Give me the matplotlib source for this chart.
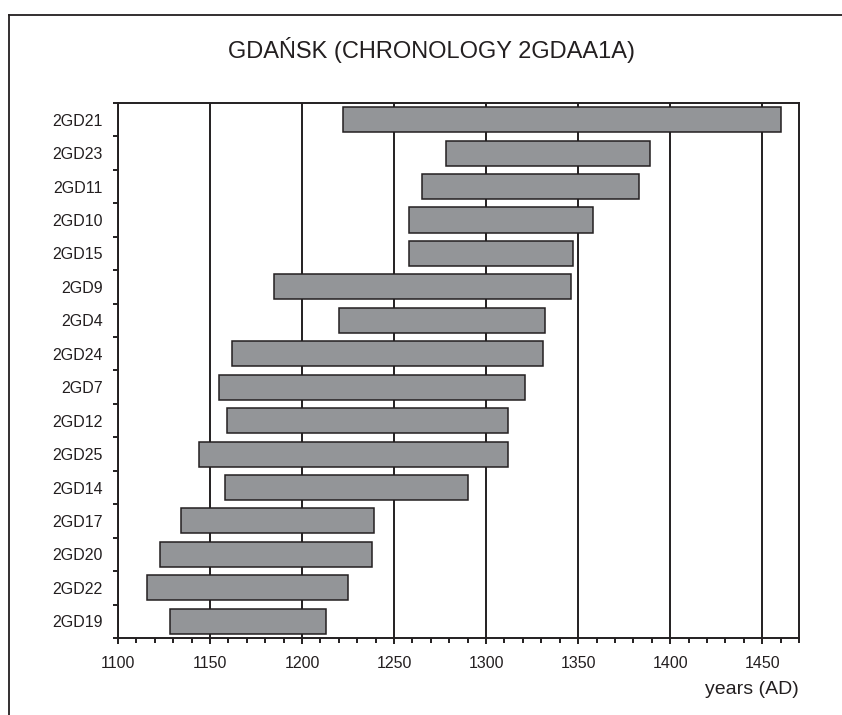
import matplotlib
matplotlib.use("Agg")
import matplotlib.pyplot as plt
from matplotlib.lines import Line2D
from matplotlib.ticker import MultipleLocator, FixedLocator

plt.rcParams['font.family'] = ['Liberation Sans', 'DejaVu Sans']

# samples, top to bottom
samples = ["2GD21", "2GD23", "2GD11", "2GD10", "2GD15", "2GD9", "2GD4", "2GD24",
           "2GD7", "2GD12", "2GD25", "2GD14", "2GD17", "2GD20", "2GD22", "2GD19"]
start_year = [1222, 1278, 1265, 1258, 1258, 1185, 1220, 1162,
              1155, 1159, 1144, 1158, 1134, 1123, 1116, 1128]
end_year = [1460, 1389, 1383, 1358, 1347, 1346, 1332, 1331,
            1321, 1312, 1312, 1290, 1239, 1238, 1225, 1213]

INK = "#231f20"
BAR = "#939598"

fig = plt.figure(figsize=(8.42, 7.15), dpi=100)
ax = fig.add_axes([0.1401, 0.1077, 0.8088, 0.7483])

ypos = list(range(len(samples)))
widths = [e - s for s, e in zip(start_year, end_year)]
ax.barh(ypos, widths, left=start_year, height=0.75, color=BAR,
        edgecolor=INK, linewidth=1.1, zorder=3)

ax.set_xlim(1100, 1470)
ax.set_ylim(len(samples) - 0.5, -0.5)

# x axis
ax.xaxis.set_major_locator(MultipleLocator(50))
ax.xaxis.set_minor_locator(MultipleLocator(10))
ax.tick_params(axis='x', which='major', direction='out', length=4, width=1.4,
               color=INK, labelsize=11.5, labelcolor=INK, pad=9)
ax.tick_params(axis='x', which='minor', direction='out', length=3.5, width=1.4, color=INK)
ax.grid(axis='x', which='major', color=INK, linewidth=1.4, zorder=1)
ax.set_axisbelow(True)

# y axis: ticks between rows, labels centred on rows
ax.yaxis.set_major_locator(FixedLocator([i - 0.5 for i in range(len(samples) + 1)]))
ax.yaxis.set_major_formatter(plt.NullFormatter())
ax.yaxis.set_minor_locator(FixedLocator(ypos))
ax.set_yticklabels(samples, minor=True)
ax.tick_params(axis='y', which='major', direction='out', length=3.5, width=1.4, color=INK)
ax.tick_params(axis='y', which='minor', length=0, labelsize=11.5, labelcolor=INK, pad=11)

for sp in ax.spines.values():
    sp.set_color(INK)
    sp.set_linewidth(1.4)

fig.text(0.513, 0.930, "GDAŃSK (CHRONOLOGY 2GDAA1A)", ha='center', va='center',
         fontsize=17, color=INK)
fig.text(0.949, 0.035, "years (AD)", ha='right', va='center', fontsize=14, color=INK)

# frame around the figure (only top and left visible)
fig.add_artist(Line2D([9 / 842, 9 / 842], [0, 1 - 15 / 715], transform=fig.transFigure,
                      color=INK, linewidth=1.3))
fig.add_artist(Line2D([9 / 842, 1], [1 - 15 / 715, 1 - 15 / 715], transform=fig.transFigure,
                      color=INK, linewidth=1.3))

fig.savefig("out.png", dpi=100)
